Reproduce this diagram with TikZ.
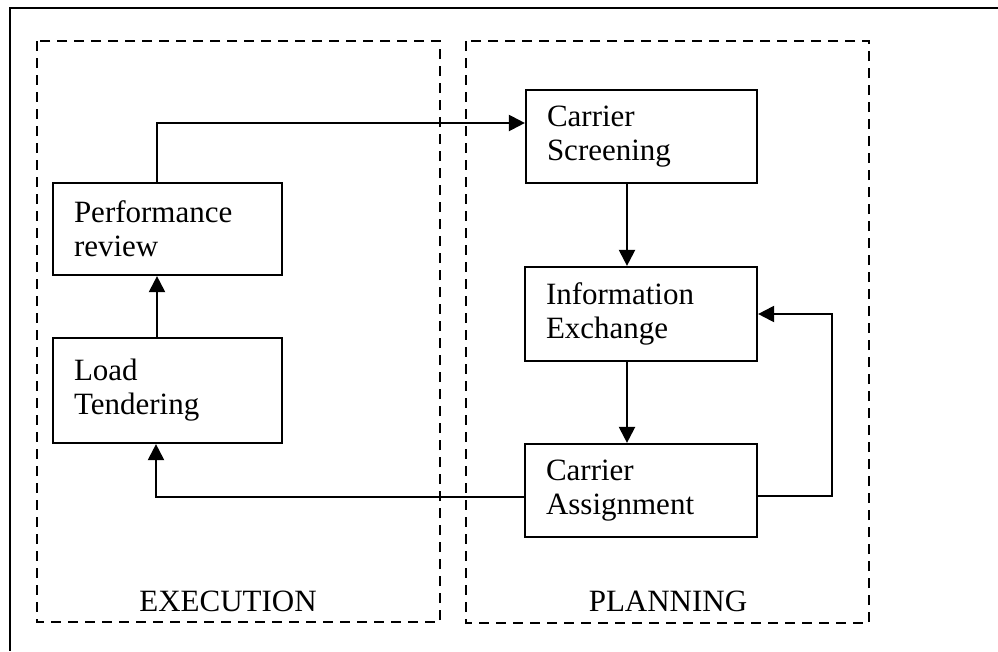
\documentclass[tikz,border=0pt]{standalone}
\usepackage{fontspec}
\setmainfont{Liberation Serif}
\usetikzlibrary{arrows.meta}
\tikzset{
  box/.style={draw, line width=2.2pt, inner xsep=21pt, inner ysep=0pt, align=left,
    font=\fontsize{31}{34}\selectfont},
  arr/.style={line width=2.2pt, -{Triangle[length=16pt,width=16pt]}},
  dashbox/.style={line width=2.4pt, dash pattern=on 10pt off 7pt},
  frame/.style={line width=2.4pt},
  lbl/.style={font=\fontsize{31}{34}\selectfont, inner sep=0pt}
}
\begin{document}
\begin{tikzpicture}[x=1pt,y=-1pt]
\useasboundingbox (0,0) rectangle (998,651);
% outer frame (top and left sides visible)
\draw[frame] (998,8) -- (10,8) -- (10,651);
% dashed group boxes
\draw[dashbox] (37,41) rectangle (440,622);
\draw[dashbox] (466,41) rectangle (869,623);
% labels
\node[lbl] (exec) at (228,601) {EXECUTION};
\node[lbl] (plan) at (668,601) {PLANNING};
% boxes
\node[box, text width=187pt, minimum height=92pt] (PR) at (167.5,229) {Performance\\review};
\node[box, text width=187pt, minimum height=105pt] (LT) at (167.5,390.5) {Load\\Tendering};
\node[box, text width=189pt, minimum height=93pt] (CS) at (641.5,136.5) {Carrier\\Screening};
\node[box, text width=190pt, minimum height=94pt] (IE) at (641,314) {Information\\Exchange};
\node[box, text width=190pt, minimum height=93pt] (CA) at (641,490.5) {Carrier\\Assignment};
% helper coordinates
\coordinate (cA) at (157,123);
\coordinate (cB) at (627,0);
\coordinate (cC) at (156,497);
\coordinate (cD) at (832,496);
\coordinate (cE) at (832,314);
% connectors
\draw[arr] (LT.north -| cA) -- (PR.south -| cA);
\draw[arr] (PR.north -| cA) -- (cA) -- (CS.west |- cA);
\draw[arr] (CS.south -| cB) -- (IE.north -| cB);
\draw[arr] (IE.south -| cB) -- (CA.north -| cB);
\draw[arr] (CA.west |- cC) -- (cC) -- (LT.south -| cC);
\draw[arr] (CA.east |- cD) -- (cD) -- (cE) -- (IE.east);
\end{tikzpicture}
\end{document}
